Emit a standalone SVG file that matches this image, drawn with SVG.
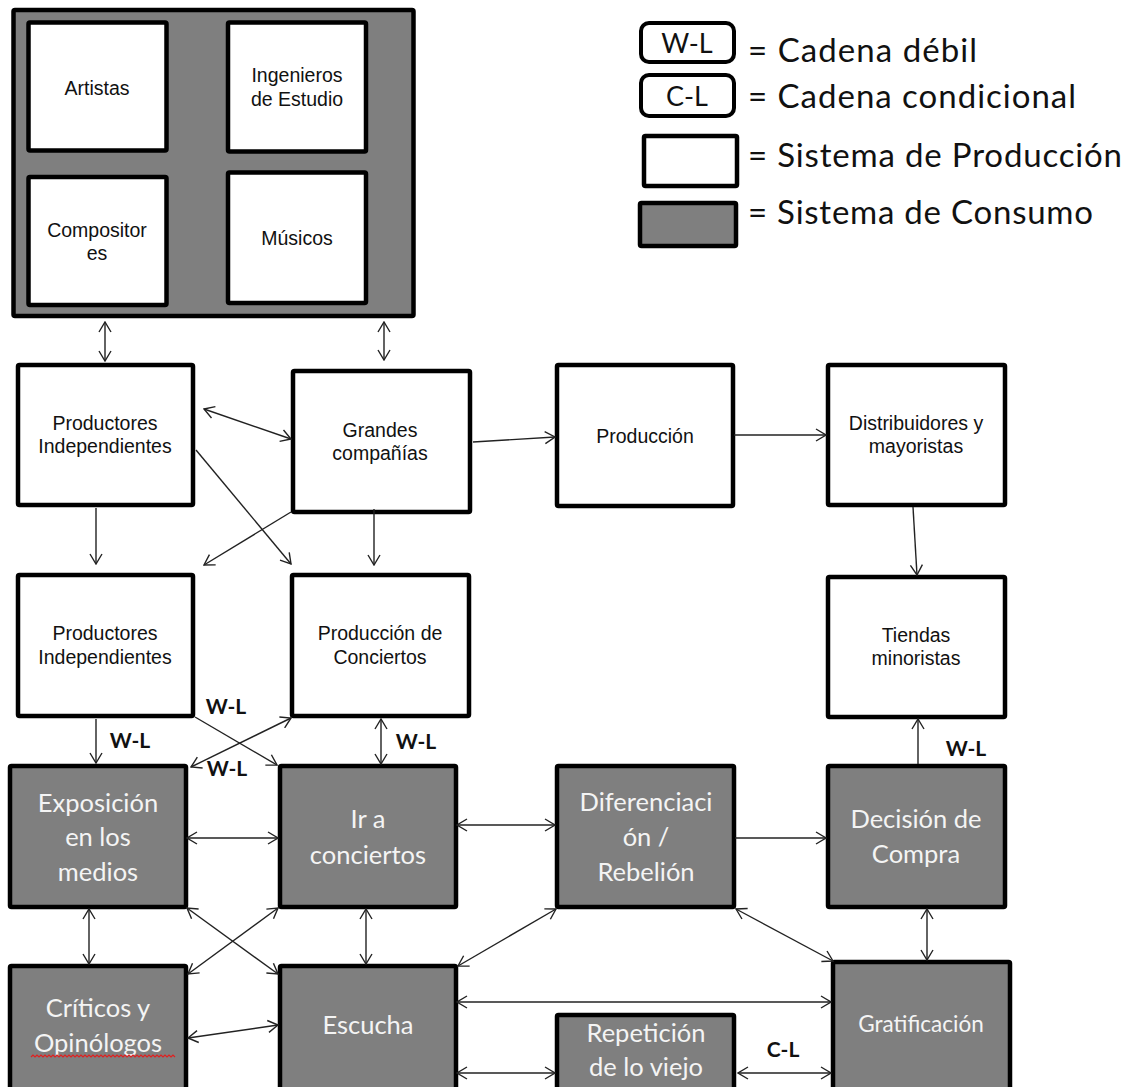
<svg xmlns="http://www.w3.org/2000/svg" width="1135" height="1087" viewBox="0 0 1135 1087">
  <defs>
    <marker id="arr" viewBox="0 0 12 14" refX="11" refY="7" markerWidth="12" markerHeight="14" markerUnits="userSpaceOnUse" orient="auto-start-reverse">
      <path d="M1,1 L11,7 L1,13" fill="none" stroke="#222" stroke-width="1.4"/>
    </marker>
    <style>
      .prod { fill: #ffffff; stroke: #000; stroke-width: 4.5; }
      .cons { fill: #7f7f7f; stroke: #000; stroke-width: 4.5; }
      .leg  { fill: #ffffff; stroke: #000; stroke-width: 4; }
      .tp { font-family: "Liberation Sans", Arial, sans-serif; font-size: 19.5px; fill: #111; text-anchor: middle; }
      .tc { font-family: Lato, "Open Sans", sans-serif; font-size: 25.5px; fill: #f4f4f4; text-anchor: middle; }
      .tl { font-family: Lato, "Open Sans", sans-serif; font-size: 33px; fill: #111; }
      .tk { font-family: Lato, "Open Sans", sans-serif; font-size: 27px; fill: #111; text-anchor: middle; }
      .wl { font-family: Lato, "Open Sans", sans-serif; font-size: 21px; font-weight: bold; fill: #111; text-anchor: middle; }
      .cn line { stroke: #222; stroke-width: 1.4; marker-end: url(#arr); }
      .cn line.bi { marker-start: url(#arr); }
    </style>
  </defs>

  <!-- legend -->
  <g id="legend">
    <rect class="leg" x="641" y="23" width="93" height="39" rx="8"/>
    <text class="tk" x="687" y="53">W-L</text>
    <rect class="leg" x="641" y="75" width="93" height="41" rx="8"/>
    <text class="tk" x="687" y="106">C-L</text>
    <rect class="prod" x="644" y="136" width="93" height="50" rx="1.5"/>
    <rect class="cons" x="640" y="203" width="96" height="43" rx="1.5"/>
    <text class="tl" x="748" y="62" textLength="229">= Cadena débil</text>
    <text class="tl" x="748" y="108" textLength="328">= Cadena condicional</text>
    <text class="tl" x="748" y="167" textLength="374">= Sistema de Producción</text>
    <text class="tl" x="748" y="224" textLength="345">= Sistema de Consumo</text>
  </g>

  <!-- creative group -->
  <g id="creativos">
    <rect class="cons" x="13.5" y="10" width="400" height="306" rx="1.5"/>
  </g>
  <g id="artistas">
    <rect class="prod" x="28.5" y="22.5" width="138" height="128" rx="1.5"/>
    <text class="tp" x="97" y="95">Artistas</text>
  </g>
  <g id="ingenieros">
    <rect class="prod" x="228" y="22.5" width="138" height="129" rx="1.5"/>
    <text class="tp" x="297" y="82">Ingenieros</text>
    <text class="tp" x="297" y="106">de Estudio</text>
  </g>
  <g id="compositores">
    <rect class="prod" x="28.5" y="177" width="138" height="128" rx="1.5"/>
    <text class="tp" x="97" y="237">Compositor</text>
    <text class="tp" x="97" y="260">es</text>
  </g>
  <g id="musicos">
    <rect class="prod" x="228" y="172.5" width="138" height="130.5" rx="1.5"/>
    <text class="tp" x="297" y="245">Músicos</text>
  </g>

  <!-- production row -->
  <g id="prod-indep-1">
    <rect class="prod" x="18" y="365" width="175" height="140" rx="1.5"/>
    <text class="tp" x="105" y="430">Productores</text>
    <text class="tp" x="105" y="453">Independientes</text>
  </g>
  <g id="grandes">
    <rect class="prod" x="293" y="371" width="177" height="141" rx="1.5"/>
    <text class="tp" x="380" y="437">Grandes</text>
    <text class="tp" x="380" y="460">compañías</text>
  </g>
  <g id="produccion">
    <rect class="prod" x="557" y="365" width="176" height="141" rx="1.5"/>
    <text class="tp" x="645" y="443">Producción</text>
  </g>
  <g id="distribuidores">
    <rect class="prod" x="828" y="365" width="177" height="140" rx="1.5"/>
    <text class="tp" x="916" y="430">Distribuidores y</text>
    <text class="tp" x="916" y="453">mayoristas</text>
  </g>

  <g id="prod-indep-2">
    <rect class="prod" x="18" y="575" width="175" height="141" rx="1.5"/>
    <text class="tp" x="105" y="640">Productores</text>
    <text class="tp" x="105" y="664">Independientes</text>
  </g>
  <g id="conciertos">
    <rect class="prod" x="292" y="575" width="177" height="141" rx="1.5"/>
    <text class="tp" x="380" y="640">Producción de</text>
    <text class="tp" x="380" y="664">Conciertos</text>
  </g>
  <g id="tiendas">
    <rect class="prod" x="828" y="577" width="177" height="140" rx="1.5"/>
    <text class="tp" x="916" y="642">Tiendas</text>
    <text class="tp" x="916" y="665">minoristas</text>
  </g>

  <!-- consumption row -->
  <g id="exposicion">
    <rect class="cons" x="10" y="766" width="176" height="141" rx="1.5"/>
    <text class="tc" x="98" y="812">Exposición</text>
    <text class="tc" x="98" y="846">en los</text>
    <text class="tc" x="98" y="881">medios</text>
  </g>
  <g id="ir-conciertos">
    <rect class="cons" x="280" y="766" width="176" height="141" rx="1.5"/>
    <text class="tc" x="368" y="828">Ir a</text>
    <text class="tc" x="368" y="864">conciertos</text>
  </g>
  <g id="diferenciacion">
    <rect class="cons" x="557" y="766" width="177" height="141" rx="1.5"/>
    <text class="tc" x="646" y="811">Diferenciaci</text>
    <text class="tc" x="646" y="846">ón /</text>
    <text class="tc" x="646" y="881">Rebelión</text>
  </g>
  <g id="decision">
    <rect class="cons" x="828" y="766" width="177" height="141" rx="1.5"/>
    <text class="tc" x="916" y="828">Decisión de</text>
    <text class="tc" x="916" y="863">Compra</text>
  </g>

  <g id="criticos">
    <rect class="cons" x="10" y="966" width="176" height="130" rx="1.5"/>
    <text class="tc" x="98" y="1017">Críticos y</text>
    <text class="tc" x="98" y="1052">Opinólogos</text>
    <path d="M31,1057 l2,-2 l2,2 l2,-2 l2,2 l2,-2 l2,2 l2,-2 l2,2 l2,-2 l2,2 l2,-2 l2,2 l2,-2 l2,2 l2,-2 l2,2 l2,-2 l2,2 l2,-2 l2,2 l2,-2 l2,2 l2,-2 l2,2 l2,-2 l2,2 l2,-2 l2,2 l2,-2 l2,2 l2,-2 l2,2 l2,-2 l2,2 l2,-2 l2,2 l2,-2 l2,2 l2,-2 l2,2 l2,-2 l2,2 l2,-2 l2,2 l2,-2 l2,2 l2,-2 l2,2 l2,-2 l2,2 l2,-2 l2,2 l2,-2 l2,2 l2,-2 l2,2 l2,-2 l2,2 l2,-2 l2,2 l2,-2 l2,2 l2,-2 l2,2 l2,-2 l2,2 l2,-2 l2,2 l2,-2 l2,2 l2,-2 l2,2" fill="none" stroke="#e02020" stroke-width="1.2"/>
  </g>
  <g id="escucha">
    <rect class="cons" x="280" y="966" width="176" height="130" rx="1.5"/>
    <text class="tc" x="368" y="1034">Escucha</text>
  </g>
  <g id="repeticion">
    <rect class="cons" x="557" y="1015" width="177" height="80" rx="1.5"/>
    <text class="tc" x="646" y="1042">Repetición</text>
    <text class="tc" x="646" y="1076">de lo viejo</text>
  </g>
  <g id="gratificacion">
    <rect class="cons" x="833" y="962" width="177" height="134" rx="1.5"/>
    <text class="tc" x="921" y="1032" style="font-size:22.5px">Gratificación</text>
  </g>

  <!-- connectors -->
  <g id="connectors" class="cn">
    <line class="bi" x1="105" y1="322" x2="105" y2="361"/>
    <line class="bi" x1="384" y1="322" x2="384" y2="360"/>
    <line class="bi" x1="204" y1="409" x2="291" y2="439"/>
    <line x1="473" y1="442" x2="555" y2="437"/>
    <line x1="734" y1="435" x2="826" y2="435"/>
    <line x1="913" y1="507" x2="917" y2="575"/>
    <line x1="96" y1="508" x2="96" y2="564"/>
    <line x1="196" y1="450" x2="291" y2="564"/>
    <line x1="291" y1="512" x2="204" y2="565"/>
    <line x1="374" y1="509" x2="374" y2="565"/>

    <line x1="96" y1="719" x2="96" y2="763"/>
    <line x1="195" y1="717" x2="277" y2="765"/>
    <line class="bi" x1="291" y1="718" x2="191" y2="767"/>
    <line class="bi" x1="381" y1="719" x2="381" y2="764"/>
    <line x1="918" y1="764" x2="918" y2="719"/>

    <line class="bi" x1="187" y1="838" x2="278" y2="838"/>
    <line class="bi" x1="457" y1="825" x2="555" y2="825"/>
    <line x1="735" y1="838" x2="826" y2="838"/>

    <line class="bi" x1="89" y1="909" x2="89" y2="964"/>
    <line class="bi" x1="187" y1="908" x2="278" y2="974"/>
    <line class="bi" x1="278" y1="908" x2="188" y2="974"/>
    <line class="bi" x1="366" y1="909" x2="366" y2="964"/>
    <line class="bi" x1="556" y1="909" x2="458" y2="966"/>
    <line class="bi" x1="736" y1="909" x2="833" y2="961"/>
    <line class="bi" x1="927" y1="909" x2="927" y2="960"/>

    <line class="bi" x1="188" y1="1038" x2="278" y2="1025"/>
    <line class="bi" x1="457" y1="1002" x2="831" y2="1002"/>
    <line class="bi" x1="457" y1="1073" x2="555" y2="1073"/>
    <line class="bi" x1="738" y1="1073" x2="831" y2="1073"/>
  </g>

  <!-- link labels -->
  <g id="link-labels">
    <text class="wl" x="130" y="748">W-L</text>
    <text class="wl" x="226" y="714">W-L</text>
    <text class="wl" x="227" y="776">W-L</text>
    <text class="wl" x="416" y="749">W-L</text>
    <text class="wl" x="966" y="756">W-L</text>
    <text class="wl" x="783" y="1057">C-L</text>
  </g>
</svg>
